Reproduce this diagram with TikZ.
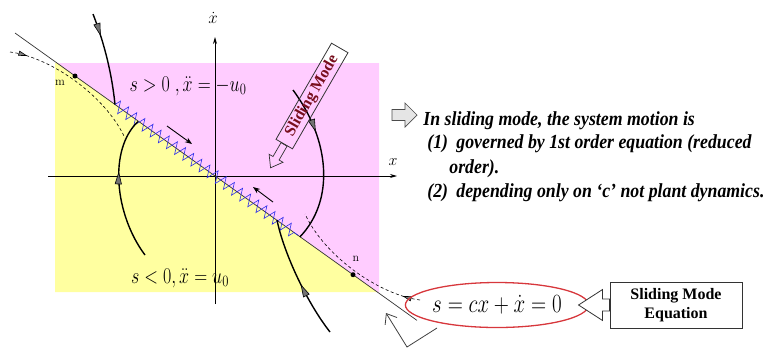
\documentclass[tikz,border=0pt]{standalone}
\usepackage{fix-cm}
\usepackage{fontspec}
\newfontfamily\timesfont{Liberation Serif}
\usetikzlibrary{arrows.meta,calc,shapes.geometric,decorations.pathmorphing,decorations.markings}
\definecolor{smpink}{RGB}{255,204,255}
\definecolor{smyellow}{RGB}{255,255,160}
\definecolor{smblue}{RGB}{45,45,235}
\definecolor{smred}{RGB}{215,55,60}
\definecolor{smmaroon}{RGB}{120,15,30}
\tikzset{
  traj/.style={line width=1.4pt, postaction={decorate},
    decoration={markings, mark=at position #1 with
      {\arrow{Triangle[fill=black!55,line width=0.6pt,length=13pt,width=7pt]}}}},
  dashtraj/.style={dash pattern=on 3pt off 2.5pt, line width=0.6pt, postaction={decorate},
    decoration={markings, mark=at position #1 with
      {\arrow{Triangle[fill=black!50,length=9pt,width=5pt]}}}},
  sdot/.style={circle, fill=black, inner sep=0, minimum size=5pt},
  rtext/.style={anchor=base west, inner sep=0, font=\timesfont\bfseries\itshape\fontsize{17.8}{22}\selectfont},
}
% taller glyphs, as in the slide
\newcommand\tallt[2][1.12]{\scalebox{1}[#1]{#2}}
% hollow block arrow along +x: #1 style, #2 length, #3 head length, #4 shaft half width, #5 head half width
\newcommand\blockarrow[5]{
  \draw[#1] (0,#4) -- ({#2-#3},#4) -- ({#2-#3},#5) -- (#2,0)
            -- ({#2-#3},-#5) -- ({#2-#3},-#4) -- (0,-#4) -- cycle;}

\begin{document}
\begin{tikzpicture}[x=1pt,y=1pt,line width=0.8pt,>=Stealth]
\useasboundingbox (0,0) rectangle (767,-349);
% regions
\fill[smpink] (57,-63) -- (379,-63) -- (379,-292) -- (377.2,-292) -- cycle;
\fill[smyellow] (55,-63) -- (57,-63) -- (377.2,-292) -- (55,-292) -- cycle;
% axes
\coordinate (O) at (215,-176);
\draw[-{Stealth[length=7pt,width=4pt]}] (48,-176) -- (397,-176) coordinate (xend);
\draw[-{Stealth[length=7pt,width=4pt]}] (215,-304) -- (215,-37) coordinate (yend);
\node (xlab) at (393,-162) {\fontsize{16}{16}\selectfont$x$};
\node (ylab) at (213,-18) {\fontsize{17}{17}\selectfont$\dot{x}$};
% sliding line
\coordinate (L1) at (15,-33);
\coordinate (L2) at (417,-320.4);
\draw[black!80,line width=0.7pt] (L1) -- (L2);
\coordinate (Z1) at (115,-104.5);
\coordinate (Z2) at (298,-235.3);
\draw[smblue,line width=0.6pt,decorate,decoration={zigzag,segment length=10pt,amplitude=6pt}] (Z1) -- (Z2);
% end points
\node[sdot] (m) at (75,-76) {};
\node[sdot] (n) at (353,-274.7) {};
\node (mlab) at (60,-83) {\fontsize{12}{12}\selectfont m};
\node (nlab) at (356,-259) {\fontsize{12}{12}\selectfont n};
% dashed trajectories
\draw[dashtraj=0.12] (10,-52) .. controls (50,-57) and (105,-95) .. (125,-138);
\draw[dashtraj=0.12] (420,-300) .. controls (380,-295) and (325,-257) .. (305,-214);
% reaching trajectories
\draw[traj=0.25] (93,-14) .. controls (105,-45) and (112,-75) .. (Z1);
\draw[traj=0.62] (145,-255) .. controls (115,-215) and (108,-150) .. (138,-121.5);
\draw[traj=0.3] (293,-90) .. controls (330,-140) and (335,-200) .. (300,-236.8);
\draw[traj=0.45] (330,-332) .. controls (305,-300) and (283,-250) .. (277,-220);
% motion along the line
\draw[->,line width=0.9pt] (167,-126) -- (192,-144);
\draw[->,line width=0.9pt] (273,-202) -- (253,-187);
% region labels
\node (spos) at (188,-86) {\tallt[1.25]{\fontsize{18}{18}\selectfont$s>0\;,\ddot{x}=-u_0$}};
\node (sneg) at (180,-278) {\tallt[1.25]{\fontsize{18}{18}\selectfont$s<0,\ddot{x}=u_0$}};
% sliding mode tag
\node[draw=black!80,rotate=60,minimum width=111pt,minimum height=19pt,inner sep=0,
      text=smmaroon,font=\timesfont\bfseries\fontsize{16}{16}\selectfont] (smbox) at (312,-96) {Sliding Mode};
\begin{scope}[shift={(smbox.west)},rotate=240]
  \blockarrow{draw=black!80,line width=0.7pt}{27}{11}{3.5}{8}
\end{scope}
% explanation
\begin{scope}[shift={(392,-115)}]
  \blockarrow{draw=black!70,fill=gray!20,line width=0.7pt}{25}{12}{5.5}{12}
\end{scope}
\node[rtext] (intro) at (423,-125) {\tallt{In sliding mode, the system motion is}};
\node[rtext] (num1) at (427,-148) {\tallt{(1)}};
\node[rtext] (item1) at (456,-148) {\tallt{governed by 1st order equation (reduced}};
\node[rtext] (item1b) at (449,-173) {\tallt{order).}};
\node[rtext] (num2) at (427,-197) {\tallt{(2)}};
\node[rtext] (item2) at (456,-197) {\tallt{depending only on ‘c’ not plant dynamics.}};
% sliding mode equation
\node[ellipse,draw=smred,line width=1.3pt,minimum width=145pt,minimum height=45pt,inner sep=0] (eq) at (497,-305)
  {\tallt[1.25]{\fontsize{21}{21}\selectfont$s=cx+\dot{x}=0$}};
\node[draw=black!80,line width=0.9pt,minimum width=132pt,minimum height=46pt,align=center,inner sep=0,
      font=\timesfont\bfseries\fontsize{16}{19}\selectfont] (smeq) at (676,-305) {Sliding Mode\\Equation};
\begin{scope}[shift={(smeq.west)},rotate=180]
  \blockarrow{draw=black!80,fill=white,line width=0.8pt}{31}{24}{6}{15.5}
\end{scope}
\coordinate (eqfoot) at (437,-328);
\draw[black!75,line width=0.8pt,-{Straight Barb[length=9pt,width=14pt]}] (eqfoot) -- (407,-347) -- (386,-313);
\end{tikzpicture}
\end{document}
